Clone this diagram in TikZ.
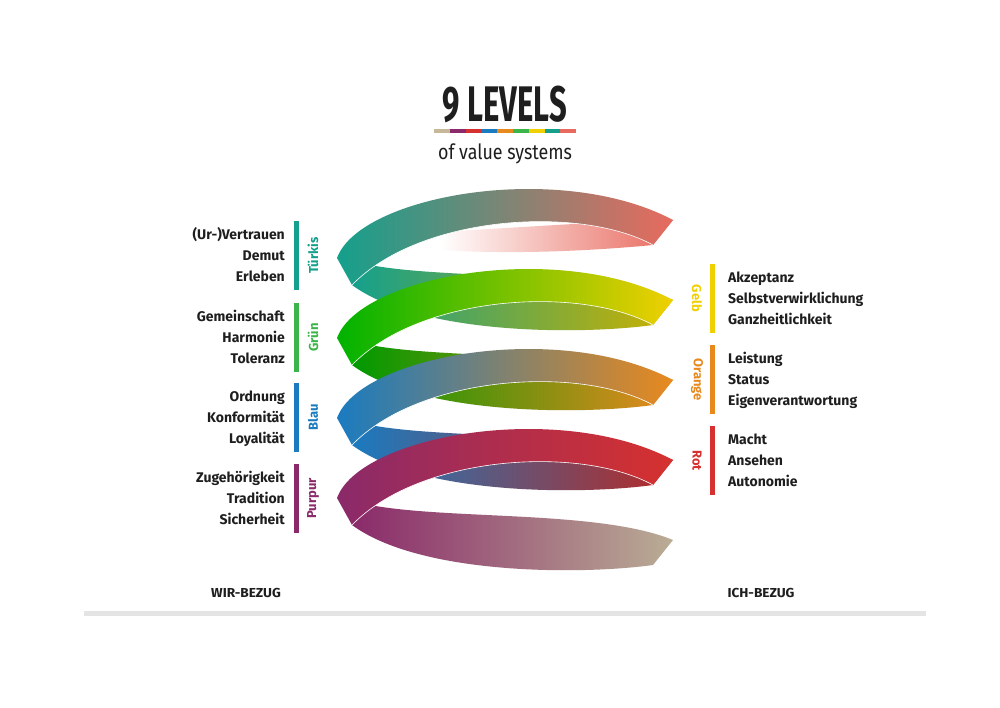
\documentclass[tikz,border=0pt]{standalone}
\usepackage{fontspec}
\setmainfont{Fira Sans}
\usetikzlibrary{positioning}

\definecolor{turk}{HTML}{14A08C}
\definecolor{gruen}{HTML}{3BB54A}
\definecolor{blau}{HTML}{1A7BC0}
\definecolor{purp}{HTML}{8A2A6A}
\definecolor{gelb}{HTML}{F0D000}
\definecolor{oran}{HTML}{E8891E}
\definecolor{rot}{HTML}{D6312E}
\definecolor{salm}{HTML}{E86A5E}
\definecolor{tan}{HTML}{C8B89A}
\definecolor{lgray}{HTML}{E4E4E4}
\definecolor{ink}{HTML}{1E1E1E}

\tikzset{
  lbl/.style={font=\fontsize{14}{21}\selectfont\bfseries, inner sep=0pt, text=ink},
  tag/.style={font=\fontsize{13}{13}\selectfont\bfseries, inner sep=0pt},
  bar/.style={line width=5pt},
}

\begin{document}
\begin{tikzpicture}[x=1pt,y=-1pt]
  \useasboundingbox[fill=white] (0,0) rectangle (1000,707);

  % title
  \node[font=\fontsize{50}{50}\selectfont\bfseries, inner sep=0pt, text=ink] (title) at (505,104) {\scalebox{0.62}[1]{9 LEVELS}};
  \foreach \c [count=\i from 0] in {tan,purp,rot,blau,oran,gruen,gelb,turk,salm}
    \draw[line width=3.5pt, \c] (434+\i*15.8,131) -- (434+\i*15.8+15.8,131);
  \node[font=\fontsize{21}{21}\selectfont, inner sep=0pt, text=ink] (sub) at (505,154) {\scalebox{0.85}[1]{of value systems}};

  % back bands
  \shade[left color=white, right color=salm]
    (440,232) .. controls (540,226) and (630,220) .. (673,220)
    -- (653,245) .. controls (600,250) and (520,255) .. (440,250) -- cycle;
  \foreach \o/\cl/\cm/\cr in {0/turk/white!70!green!40/gelb!85!black,
      80/green!60!black/olive!90!green/oran, 160/blau/blau!50!purp!60!gray/rot!85!black,
      240/purp/white/tan!80!gray}
    \shade[left color=\cl, middle color=\cm, right color=\cr]
      (370,265+\o) .. controls (450,280+\o) and (600,270+\o) .. (673,300+\o)
      -- (653,325+\o) .. controls (580,335+\o) and (420,335+\o) .. (352,285+\o) -- cycle;

  % front bands
  \foreach \o/\cl/\cm/\cr in {0/turk/gray!80!olive/salm, 80/green!70!black/lime!70!olive/gelb,
      160/blau/gray!60!brown/oran, 240/purp/purp!40!rot/rot}
  {
    \shade[left color=\cl, middle color=\cm, right color=\cr]
      (337,258+\o) .. controls (360,195+\o) and (560,160+\o) .. (673,220+\o)
      -- (653,245+\o) .. controls (580,205+\o) and (420,215+\o) .. (352,285+\o) -- cycle;
    \draw[white, line width=0.6pt] (653,245+\o) .. controls (580,205+\o) and (420,215+\o) .. (352,285+\o);
  }

  % left side
  \foreach \y/\c/\name/\txt in {221/turk/Türkis/{(Ur-)Vertrauen\\Demut\\Erleben},
      303/gruen/Grün/{Gemeinschaft\\Harmonie\\Toleranz},
      383/blau/Blau/{Ordnung\\Konformität\\Loyalität},
      464/purp/Purpur/{Zugehörigkeit\\Tradition\\Sicherheit}}
  {
    \draw[bar, \c] (296.5,\y) -- (296.5,\y+69);
    \node[tag, \c, rotate=90] (tag\name) at (313,\y+34.5) {\name};
    \node[lbl, anchor=east] (txt\name) at (285,\y+35) {\begin{tabular}{@{}r@{}}\txt\end{tabular}};
  }

  % right side
  \foreach \y/\c/\name/\txt in {264/gelb/Gelb/{Akzeptanz\\Selbstverwirklichung\\Ganzheitlichkeit},
      345/oran/Orange/{Leistung\\Status\\Eigenverantwortung},
      426/rot/Rot/{Macht\\Ansehen\\Autonomie}}
  {
    \draw[bar, \c] (712.5,\y) -- (712.5,\y+69);
    \node[tag, \c, rotate=-90] (tag\name) at (697,\y+34.5) {\name};
    \node[lbl, anchor=west] (txt\name) at (728,\y+35) {\begin{tabular}{@{}l@{}}\txt\end{tabular}};
  }

  % bottom
  \node[tag, text=ink] (wir) at (246,593) {\scalebox{1.05}[1]{WIR-BEZUG}};
  \node[tag, text=ink] (ich) at (761,593) {\scalebox{1.05}[1]{ICH-BEZUG}};
  \draw[lgray, line width=5pt] (84,613) -- (926,613);
\end{tikzpicture}
\end{document}
